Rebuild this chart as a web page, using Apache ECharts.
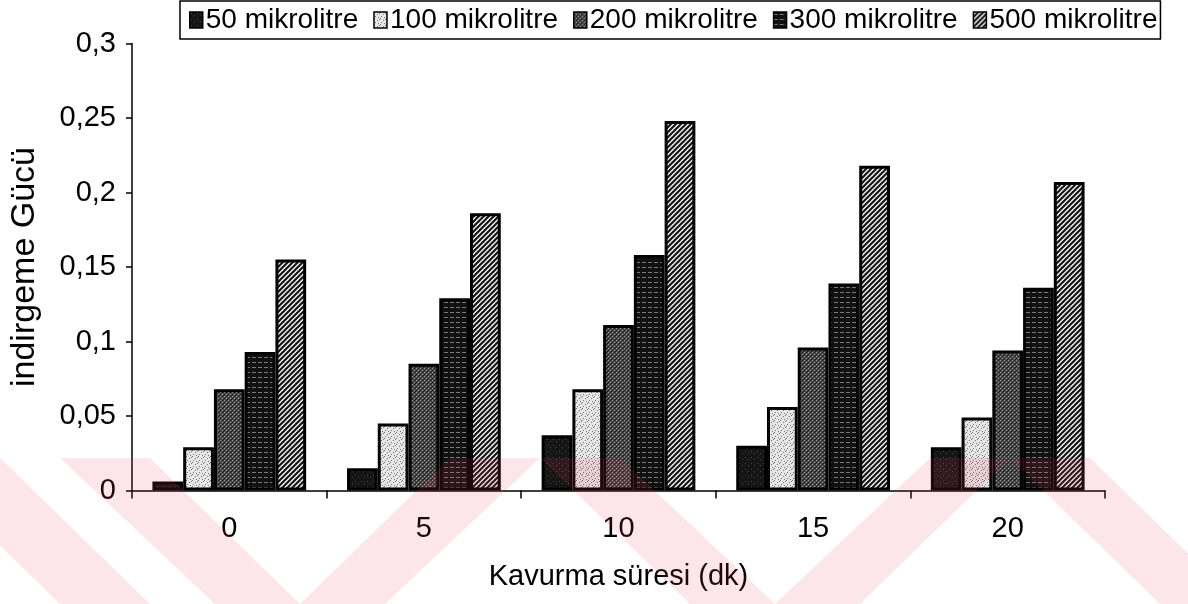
<!DOCTYPE html>
<html>
<head>
<meta charset="utf-8">
<script src="https://cdn.jsdelivr.net/npm/echarts@6/dist/echarts.min.js"></script>
<style>
html,body{margin:0;padding:0;background:#fff;}
#chart{width:1188px;height:604px;}
</style>
</head>
<body>
<div id="chart"></div>
<script>
// ---- data ----
const categories = ['0', '5', '10', '15', '20'];
const seriesNames = ['50 mikrolitre', '100 mikrolitre', '200 mikrolitre', '300 mikrolitre', '500 mikrolitre'];
const v50  = [0.006, 0.015, 0.037, 0.030, 0.029];
const v100 = [0.029, 0.045, 0.068, 0.056, 0.049];
const v200 = [0.068, 0.085, 0.111, 0.096, 0.094];
const v300 = [0.093, 0.129, 0.158, 0.139, 0.136];
const v500 = [0.155, 0.186, 0.248, 0.218, 0.207];
const yTicks = [0, 0.05, 0.1, 0.15, 0.2, 0.25, 0.3];

// ---- fill patterns (styling) ----
function pattern(w, h, draw) {
  const c = document.createElement('canvas');
  c.width = w; c.height = h;
  const g = c.getContext('2d');
  draw(g, w, h);
  return { image: c, repeat: 'repeat' };
}
const fills = [
  pattern(6, 6, (g) => { g.fillStyle = '#151515'; g.fillRect(0,0,6,6); g.fillStyle = '#444'; g.fillRect(1,1,1,1); g.fillRect(4,3,1,1); }),
  pattern(6, 6, (g) => { g.fillStyle = '#e6e6e6'; g.fillRect(0,0,6,6); g.fillStyle = '#777'; g.fillRect(0,0,1,1); g.fillRect(3,2,1,1); g.fillRect(1,4,1,1); g.fillRect(4,5,1,1); g.fillRect(5,1,1,1); }),
  pattern(4, 4, (g) => { g.fillStyle = '#4a4a4a'; g.fillRect(0,0,4,4); g.fillStyle = '#999'; g.fillRect(0,0,1,1); g.fillRect(2,2,1,1); g.fillStyle = '#1a1a1a'; g.fillRect(2,0,1,1); g.fillRect(0,2,1,1); g.fillRect(3,3,1,1); }),
  pattern(6, 5, (g) => { g.fillStyle = '#111'; g.fillRect(0,0,6,5); g.fillStyle = '#777'; g.fillRect(0,2,4,1); }),
  pattern(5, 5, (g) => { g.fillStyle = '#eeeeee'; g.fillRect(0,0,5,5); g.strokeStyle = '#111'; g.lineWidth = 2;
    g.beginPath(); g.moveTo(-1,6); g.lineTo(6,-1); g.moveTo(-4,4); g.lineTo(4,-4); g.moveTo(1,9); g.lineTo(9,1); g.stroke(); })
];

const FONT = "'Liberation Sans', Arial, sans-serif";
const values = [v50, v100, v200, v300, v500];

// decorative pink watermark bands (zigzag) along the bottom of the page
function band(xTop0, xTop1, xBot0, xBot1) {
  return {
    type: 'polygon', silent: true, z: 100,
    shape: { points: [[xTop0, 458], [xTop1, 458], [xBot1, 604], [xBot0, 604]] },
    style: { fill: 'rgba(235,60,85,0.13)' }
  };
}
const watermark = [
  band(-90, 0, 60, 150),
  band(60, 150, 215, 300),
  band(450, 540, 300, 385),
  band(540, 620, 690, 775),
  band(930, 1010, 775, 860),
  band(1010, 1090, 1160, 1240)
];

const chart = echarts.init(document.getElementById('chart'), null, { renderer: 'canvas' });
chart.setOption({
  animation: false,
  backgroundColor: '#ffffff',
  textStyle: { fontFamily: FONT, color: '#000' },
  graphic: watermark,
  legend: {
    left: 180, top: 1,
    padding: [5, 3, 5, 9],
    borderColor: '#000', borderWidth: 1.5,
    itemWidth: 13, itemHeight: 16, itemGap: 15,
    icon: 'rect',
    itemStyle: { borderColor: '#000', borderWidth: 1.5 },
    textStyle: { fontFamily: FONT, fontSize: 28, color: '#000', padding: [0, 0, 0, -2] },
    data: seriesNames
  },
  grid: { left: 128, right: 83, top: 43.5, bottom: 113.5, containLabel: false },
  xAxis: {
    type: 'category',
    data: categories,
    name: 'Kavurma süresi (dk)',
    nameLocation: 'middle', nameGap: 72,
    nameTextStyle: { fontFamily: FONT, fontSize: 29, color: '#000' },
    axisLine: { lineStyle: { color: '#000', width: 1.5 } },
    axisTick: { show: true, length: 8, lineStyle: { color: '#000', width: 1.5 } },
    axisLabel: { fontFamily: FONT, fontSize: 29, color: '#000', margin: 24 },
    splitLine: { show: false }
  },
  yAxis: {
    type: 'value',
    min: yTicks[0], max: yTicks[yTicks.length - 1], interval: yTicks[1] - yTicks[0],
    name: 'indirgeme Gücü',
    nameLocation: 'middle', nameGap: 90, nameRotate: 90,
    nameTextStyle: { fontFamily: FONT, fontSize: 34, color: '#000' },
    axisLine: { show: true, lineStyle: { color: '#000', width: 1.5 } },
    axisTick: { show: true, length: 6, lineStyle: { color: '#000', width: 1.5 } },
    axisLabel: { fontFamily: FONT, fontSize: 29, color: '#000', margin: 16,
      formatter: (v) => String(Math.round(v * 100) / 100).replace('.', ',') },
    splitLine: { show: false }
  },
  series: seriesNames.map((name, i) => ({
    name: name,
    type: 'bar',
    data: values[i],
    barGap: '0%',
    barCategoryGap: '21%',
    itemStyle: { color: fills[i], borderColor: '#000', borderWidth: 3 }
  }))
});
</script>
</body>
</html>
